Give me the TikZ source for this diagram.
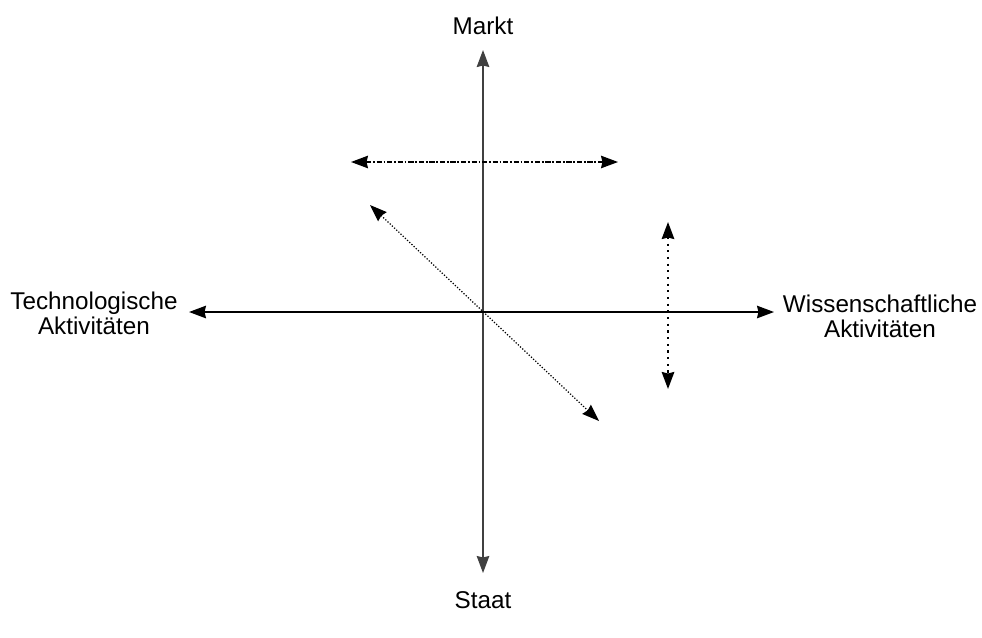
\documentclass[tikz,border=0pt]{standalone}
\usepackage{fontspec}
\setmainfont{Liberation Sans}
\usetikzlibrary{arrows.meta,positioning}

\begin{document}
\begin{tikzpicture}[
  x=0.02cm, y=-0.02cm,
  lbl/.style={align=center, font=\fontsize{13.8}{14.4}\selectfont},
  axis/.style={{Stealth[length=0.34cm,width=0.25cm,inset=0.03cm]}-{Stealth[length=0.34cm,width=0.25cm,inset=0.03cm]}, line width=1pt},
  move/.style={{Stealth[length=0.34cm,width=0.25cm,inset=0.03cm]}-{Stealth[length=0.34cm,width=0.25cm,inset=0.03cm]}, line width=0.9pt}
]
  \useasboundingbox (0,0) rectangle (982,637);

  % labels
  \node[lbl] (markt) at (483,26) {Markt};
  \node[lbl] (staat) at (483,600) {Staat};
  \node[lbl] (tech) at (94,313) {Technologische\\Aktivitäten};
  \node[lbl] (wiss) at (880,316) {Wissenschaftliche\\Aktivitäten};

  % axis ends
  \coordinate (top) at (483,50);
  \coordinate (bot) at (483,573);
  \coordinate (lft) at (189,312);
  \coordinate (rgt) at (774,312);

  \draw[axis, black!75] (bot) -- (top);
  \draw[axis] (lft) -- (rgt);

  % movements
  \coordinate (hl) at (351,162);
  \coordinate (hr) at (618,162);
  \coordinate (dl) at (370,205);
  \coordinate (dr) at (599,421);
  \coordinate (vt) at (668,222);
  \coordinate (vb) at (668,389);

  \draw[move, dash pattern=on 3pt off 1pt on 1pt off 1pt] (hl) -- (hr);
  \draw[move, line width=0.7pt, densely dotted] (dl) -- (dr);
  \draw[move, line width=1.2pt, dash pattern=on 1.2pt off 2.6pt] (vt) -- (vb);
\end{tikzpicture}
\end{document}
